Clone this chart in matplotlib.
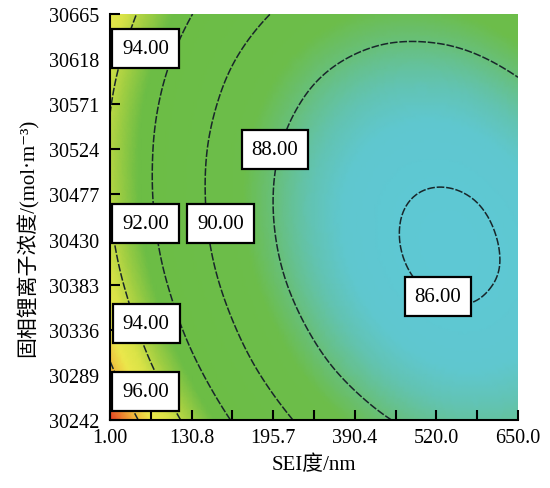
import numpy as np
import matplotlib.pyplot as plt
import matplotlib.tri as mtri
from matplotlib.colors import LinearSegmentedColormap, Normalize

plt.rcParams['font.family'] = ['Liberation Serif', 'Noto Sans CJK SC', 'DejaVu Serif']

# grid of the response surface
sei = [1.0, 65.9, 130.8, 195.7, 260.6, 325.5, 390.4, 455.3, 520.2, 585.1, 650.0]
conc = [30242, 30289, 30336, 30383, 30430, 30477, 30524, 30571, 30618, 30665]
# one row per conc value (bottom to top), one column per sei value
z_rows = [
    [97.46, 95.38, 93.53, 91.93, 90.57, 89.45, 88.58, 87.95, 87.56, 87.41, 87.51],
    [96.31, 94.27, 92.48, 90.92, 89.61, 88.54, 87.72, 87.13, 86.79, 86.70, 86.84],
    [95.38, 93.39, 91.64, 90.14, 88.88, 87.86, 87.08, 86.54, 86.25, 86.20, 86.40],
    [94.67, 92.73, 91.03, 89.57, 88.36, 87.39, 86.66, 86.17, 85.93, 85.93, 86.17],
    [94.19, 92.29, 90.64, 89.23, 88.07, 87.15, 86.47, 86.03, 85.83, 85.88, 86.17],
    [93.92, 92.08, 90.48, 89.12, 88.00, 87.12, 86.49, 86.10, 85.96, 86.05, 86.39],
    [93.88, 92.09, 90.53, 89.22, 88.15, 87.33, 86.74, 86.40, 86.30, 86.45, 86.83],
    [94.06, 92.31, 90.81, 89.55, 88.53, 87.75, 87.21, 86.92, 86.87, 87.06, 87.50],
    [94.47, 92.77, 91.31, 90.09, 89.12, 88.39, 87.91, 87.66, 87.66, 87.90, 88.39],
    [95.09, 93.44, 92.03, 90.87, 89.94, 89.26, 88.82, 88.63, 88.68, 88.97, 89.50],
]
levels = [86, 88, 90, 92, 94, 96]

xtick_labels = ['1.00', '', '130.8', '', '195.7', '', '390.4', '', '520.0', '', '650.0']
ytick_labels = [str(c) for c in conc]

# contour label boxes: (level, sei, conc)
label_pos = [
    (94, 57.5, 30629.5),
    (92, 57.5, 30447.2),
    (90, 176.5, 30447.2),
    (88, 263.4, 30524.3),
    (86, 522.8, 30370.2),
    (94, 58.5, 30343.0),
    (96, 57.5, 30272.2),
]

# colour ramp of the surface (value, colour)
vmin, vmax = 85.8, 97.5
stops = [
    (85.8, '#5ec8d4'), (86.6, '#5fc7cf'), (87.2, '#62c3b0'), (88.0, '#68bf78'),
    (88.8, '#6cbd4a'), (92.6, '#6cbd45'), (93.6, '#a3cf42'), (94.5, '#d9e347'),
    (95.3, '#ece84c'), (96.2, '#f0b23a'), (97.5, '#e63a22'),
]
cmap = LinearSegmentedColormap.from_list(
    'de', [((v - vmin) / (vmax - vmin), c) for v, c in stops])

X, Y = np.meshgrid(sei, conc)
Z = np.array(z_rows)
tri = mtri.Triangulation(X.ravel(), Y.ravel())
refiner = mtri.UniformTriRefiner(tri)
tri_f, z_f = refiner.refine_field(Z.ravel(), subdiv=4)

fig = plt.figure(figsize=(5.5, 4.89), dpi=100)
ax = fig.add_axes([0.2, 0.139, 0.7418, 0.8303])

ax.tripcolor(tri_f, z_f, shading='gouraud', cmap=cmap,
             norm=Normalize(vmin, vmax), rasterized=True)
ax.tricontour(tri_f, z_f, levels=levels, colors='#18262a',
              linewidths=1.1, linestyles=[(0, (5, 1.2))])

for lev, lx, ly in label_pos:
    ax.text(lx, ly, '%.2f' % lev, ha='center', va='center', fontsize=15,
            zorder=5,
            bbox=dict(boxstyle='square,pad=0.48', fc='white', ec='black', lw=1.6))

ax.set_xlim(sei[0], sei[-1])
ax.set_ylim(conc[0], conc[-1])
ax.set_xticks(sei)
ax.set_xticklabels(xtick_labels)
ax.set_yticks(conc)
ax.set_yticklabels(ytick_labels)
ax.tick_params(direction='in', length=7, width=1.5, labelsize=14.5)
ax.tick_params(axis='x', pad=6)
ax.tick_params(axis='y', pad=8)
for s in ['top', 'right']:
    ax.spines[s].set_visible(False)
for s in ['left', 'bottom']:
    ax.spines[s].set_linewidth(1.5)

ax.set_xlabel('SEI度/nm', fontsize=15, labelpad=5)
ax.set_ylabel('固相锂离子浓度/(mol·m⁻³)', fontsize=15)
ax.yaxis.set_label_coords(-0.175, 0.45)

fig.savefig('out.png', dpi=100)
